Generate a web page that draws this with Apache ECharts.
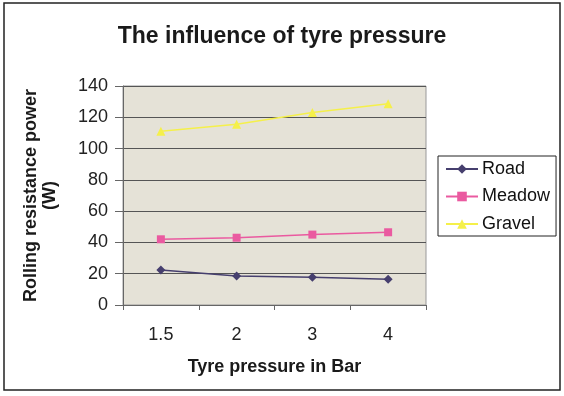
<!DOCTYPE html>
<html>
<head>
<meta charset="utf-8">
<script src="https://cdn.jsdelivr.net/npm/echarts@6/dist/echarts.min.js"></script>
<style>
  html, body { margin: 0; padding: 0; background: #fff; }
  #chart { width: 564px; height: 396px; }
</style>
</head>
<body>
<div id="chart"></div>
<script>
// data
var pressures = ['1.5', '2', '3', '4'];
var road = [22.4, 18.5, 17.7, 16.4];
var meadow = [42, 43, 45, 46.5];
var gravel = [111, 115.5, 123, 128.7];

var font = 'Liberation Sans, Arial, sans-serif';

var chart = echarts.init(document.getElementById('chart'));

var option = {
    backgroundColor: '#ffffff',
    animation: false,
    title: {
        text: 'The influence of tyre pressure',
        left: 'center',
        top: 20,
        textStyle: { fontFamily: font, fontSize: 23, fontWeight: 'bold', color: '#1a1a1a' }
    },
    //outer frame
    graphic: [{
        type: 'rect',
        shape: { x: 4, y: 3, width: 556, height: 387 },
        style: { fill: 'none', stroke: '#222', lineWidth: 1.5 },
        silent: true
    }],
    legend: {
        orient: 'vertical',
        left: 438,
        top: 156,
        padding: [4, 6, 3, 7],
        itemGap: 9.5,
        itemWidth: 32,
        itemHeight: 12,
        borderColor: '#222',
        borderWidth: 1,
        textStyle: { fontFamily: font, fontSize: 18, color: '#111', padding: [0, 0, 0, -1] },
        data: ['Road', 'Meadow', 'Gravel']
    },
    grid: {
        left: 123,
        right: 138,
        top: 86,
        bottom: 91,
        show: true,
        backgroundColor: '#e5e2d7',
        borderColor: '#999',
        borderWidth: 1
    },
    xAxis: {
        type: 'category',
        data: pressures,
        boundaryGap: true,
        name: 'Tyre pressure in Bar',
        nameLocation: 'middle',
        nameGap: 53,
        nameTextStyle: { fontFamily: font, fontSize: 18, fontWeight: 'bold', color: '#1a1a1a' },
        axisLine: { lineStyle: { color: '#666', width: 1 } },
        axisTick: { show: true, inside: false, length: 5, lineStyle: { color: '#666' } },
        axisLabel: { fontFamily: font, fontSize: 18, color: '#222', margin: 21 },
        splitLine: { show: false }
    },
    yAxis: {
        type: 'value',
        min: 0,
        max: 140,
        interval: 20,
        name: 'Rolling resistance power\n(W)',
        nameLocation: 'middle',
        nameGap: 63,
        nameTextStyle: { fontFamily: font, fontSize: 18, fontWeight: 'bold', color: '#1a1a1a', lineHeight: 19 },
        axisLine: { show: true, lineStyle: { color: '#666', width: 1 } },
        axisTick: { show: true, inside: false, length: 8, lineStyle: { color: '#666' } },
        axisLabel: { fontFamily: font, fontSize: 18, color: '#222', margin: 15 },
        splitLine: { show: true, lineStyle: { color: '#555', width: 1 } }
    },
    series: [
        {
            name: 'Road',
            type: 'line',
            data: road,
            symbol: 'diamond',
            symbolSize: 9,
            itemStyle: { color: '#463f6e' },
            lineStyle: { color: '#463f6e', width: 1.5 }
        },
        {
            name: 'Meadow',
            type: 'line',
            data: meadow,
            symbol: 'rect',
            symbolSize: 8,
            itemStyle: { color: '#ea5aa0' },
            lineStyle: { color: '#ea5aa0', width: 1.5 }
        },
        {
            name: 'Gravel',
            type: 'line',
            data: gravel,
            symbol: 'triangle',
            symbolSize: 9,
            itemStyle: { color: '#f5f04a' },
            lineStyle: { color: '#f5f04a', width: 1.5 }
        }
    ]
};

chart.setOption(option);
</script>
</body>
</html>
